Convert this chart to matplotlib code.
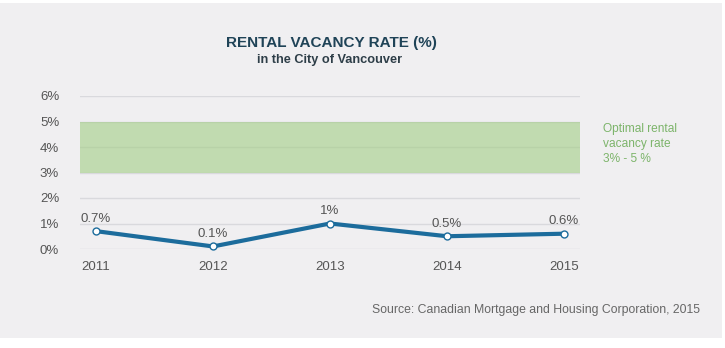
import matplotlib
matplotlib.use("Agg")
import matplotlib.pyplot as plt
from matplotlib.patches import Rectangle

years = [2011, 2012, 2013, 2014, 2015]
vacancy = [0.7, 0.1, 1.0, 0.5, 0.6]
value_labels = ["0.7%", "0.1%", "1%", "0.5%", "0.6%"]
y_ticks = [0, 1, 2, 3, 4, 5, 6]
y_tick_labels = ["0%", "1%", "2%", "3%", "4%", "5%", "6%"]
optimal_low, optimal_high = 3, 5

W, H = 725, 348
fig = plt.figure(figsize=(W / 100, H / 100), dpi=100, facecolor="white")
fig.patches.append(Rectangle((0, 10 / H), 722 / W, 335 / H, transform=fig.transFigure,
                             facecolor="#f0eff1", edgecolor="none", zorder=-5))

ax = fig.add_axes([80 / W, (H - 249) / H, 500 / W, 153 / H])
ax.set_zorder(1)
ax.patch.set_visible(False)
ax.set_xlim(2011 - 16 / 117, 2015 + 16 / 117)
ax.set_ylim(0, 6)
for s in ax.spines.values():
    s.set_visible(False)

for t in y_ticks:
    ax.axhline(t, color="#d9d9dd", lw=1.0, zorder=1)
ax.axhspan(optimal_low, optimal_high, color="#a3ce85", alpha=0.6, lw=0, zorder=2)

ax.plot(years, vacancy, color="#1c6c9c", lw=3.0, zorder=3, clip_on=False,
        marker="o", markersize=5, markerfacecolor="white", markeredgecolor="#1c6c9c",
        markeredgewidth=1.0, solid_capstyle="round")

for x, v, lab in zip(years, vacancy, value_labels):
    ax.annotate(lab, (x, v), xytext=(0, 4.5), textcoords="offset points",
                ha="center", va="bottom", fontsize=9.5, color="#555555",
                family="Liberation Sans", zorder=4)

ax.set_yticks(y_ticks)
ax.set_yticklabels(y_tick_labels)
ax.set_xticks(years)
ax.set_xticklabels([str(y) for y in years])
ax.tick_params(axis="y", length=0, pad=15, labelsize=9.5, labelcolor="#555555")
ax.tick_params(axis="x", length=0, pad=9, labelsize=9.5, labelcolor="#555555")
for lbl in ax.get_xticklabels() + ax.get_yticklabels():
    lbl.set_family("Liberation Sans")

fig.text(331 / W, 1 - 43.5 / H, "RENTAL VACANCY RATE (%)", ha="center", va="center",
         fontsize=11, fontweight="bold", color="#1f4357", family="Liberation Sans")
fig.text(330 / W, 1 - 60 / H, "in the City of Vancouver", ha="center", va="center",
         fontsize=9.2, fontweight="bold", color="#2e3e48", family="Liberation Sans")

fig.text(603 / W, 1 - 123 / H, "Optimal rental\nvacancy rate\n3% - 5 %", ha="left", va="top",
         fontsize=8.6, color="#7cb46a", family="Liberation Sans", linespacing=1.35)

fig.text(700 / W, 1 - 310 / H, "Source: Canadian Mortgage and Housing Corporation, 2015",
         ha="right", va="center", fontsize=8.8, color="#666666", family="Liberation Sans")

fig.savefig("out.png", dpi=100, facecolor="white")
